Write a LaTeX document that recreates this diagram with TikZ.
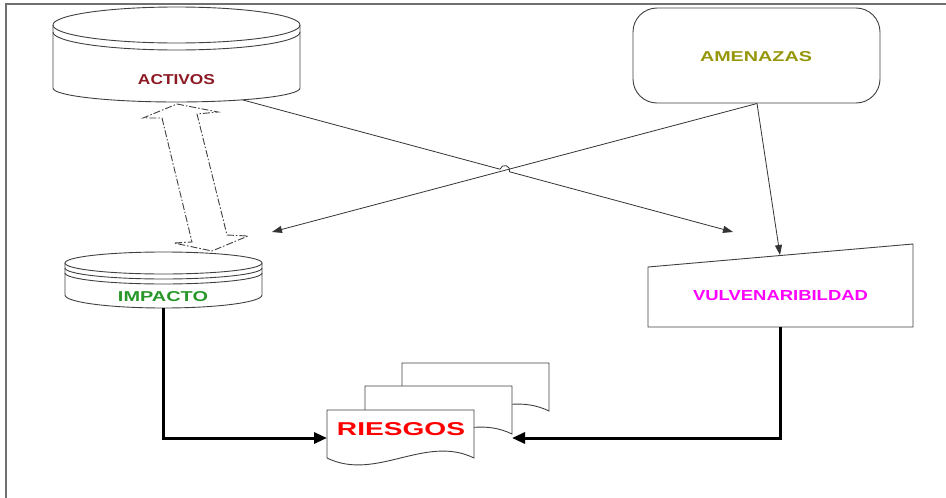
\documentclass[tikz,border=0pt]{standalone}
\usepackage{fontspec}
\setmainfont{Liberation Sans}
\usepackage{graphicx}
\usetikzlibrary{arrows.meta}
\definecolor{framegray}{RGB}{112,112,112}
\definecolor{activred}{RGB}{140,25,35}
\definecolor{ameolive}{RGB}{150,150,10}
\definecolor{impgreen}{RGB}{40,150,40}
\definecolor{vulmag}{RGB}{255,0,255}
\definecolor{riesred}{RGB}{255,0,0}
\begin{document}
\begin{tikzpicture}[x=1pt,y=-1pt,
 shapeline/.style={draw=black!75,line width=0.9pt},
 thinconn/.style={draw=black!80,line width=0.8pt,-{Triangle[length=10pt,width=7pt]}},
 thickconn/.style={draw=black,line width=3pt,-{Triangle[length=13pt,width=11pt]}},
 dashblock/.style={draw=black!75,line width=0.9pt,dash pattern=on 7pt off 2pt on 1.5pt off 2pt},
 txtlbl/.style={inner sep=0pt,font=\bfseries}]
\useasboundingbox (0,0) rectangle (946,498);
\draw[framegray,line width=2pt] (6,498) -- (6,4) -- (946,4);

% ACTIVOS cylinder
\draw[shapeline] (176.5,25) ellipse [x radius=123.5pt,y radius=18pt];
\draw[shapeline] (53,32) arc[start angle=180,end angle=360,x radius=123.5pt,y radius=18pt];
\draw[shapeline] (53,25) -- (53,88) arc[start angle=180,end angle=360,x radius=123.5pt,y radius=14pt] -- (300,25);
\node[txtlbl,text=activred] (activos) at (176.5,80) {\resizebox{77pt}{10pt}{ACTIVOS}};

% AMENAZAS rounded box
\node[shapeline,rounded corners=24pt,minimum width=247pt,minimum height=95pt,inner sep=0pt] (amebox) at (756.5,55.5) {};
\node[txtlbl,text=ameolive] (amenazas) at (756,57) {\resizebox{112pt}{10pt}{AMENAZAS}};

% IMPACTO cylinder
\draw[shapeline] (163.5,263) ellipse [x radius=98.5pt,y radius=11pt];
\draw[shapeline] (65,268) arc[start angle=180,end angle=360,x radius=98.5pt,y radius=11pt];
\draw[shapeline] (65,273) arc[start angle=180,end angle=360,x radius=98.5pt,y radius=11pt];
\draw[shapeline] (65,263) -- (65,295) arc[start angle=180,end angle=360,x radius=98.5pt,y radius=13pt] -- (262,263);
\node[txtlbl,text=impgreen] (impacto) at (163,297) {\resizebox{90pt}{10pt}{IMPACTO}};

% VULVENARIBILDAD manual input shape
\draw[shapeline] (648,267) -- (913,244) -- (913,327) -- (648,327) -- cycle;
\node[txtlbl,text=vulmag] (vulner) at (780.5,296) {\resizebox{175pt}{10pt}{VULVENARIBILDAD}};

% RIESGOS document stack
\newcommand{\mydocpath}[2]{(#1,#2) -- (#1+147,#2) -- (#1+147,#2+48) .. controls (#1+98,#2+24) and (#1+49,#2+72) .. (#1,#2+48) -- cycle}
\draw[shapeline,fill=white] \mydocpath{402}{363};
\draw[shapeline,fill=white] \mydocpath{365}{386};
\draw[shapeline,fill=white] \mydocpath{327}{410};
\node[txtlbl,text=riesred] (riesgos) at (401,429.5) {\resizebox{128pt}{13pt}{RIESGOS}};

% dash-dot double block arrow between ACTIVOS and IMPACTO
\draw[dashblock] (177,104) -- (218,112) -- (197,114) -- (227,235) -- (248,236) -- (212,251) -- (174,243) -- (192,242) -- (162,118) -- (143,118) -- cycle;

% connector end points
\coordinate (actout) at (243,100);
\coordinate (ameout) at (757,103.5);
\coordinate (impin) at (272,232);
\coordinate (vulinA) at (733,232);
\coordinate (vulinB) at (780,255);
\coordinate (hopA) at (500.0,169.2);
\coordinate (hopB) at (509.7,171.8);
\coordinate (impout) at (163.5,308);
\coordinate (vulout) at (780,327);
\coordinate (riesL) at (327,438);
\coordinate (riesR) at (512,438);

% thin connectors
\draw[thinconn] (ameout) -- (impin);
\draw[thinconn] (ameout) -- (vulinB);
\draw[thinconn] (actout) -- (hopA) arc[start angle=164.92,end angle=-15.08,radius=5pt] -- (vulinA);

% thick connectors
\draw[thickconn] (impout) |- (riesL);
\draw[thickconn] (vulout) |- (riesR);
\end{tikzpicture}
\end{document}
